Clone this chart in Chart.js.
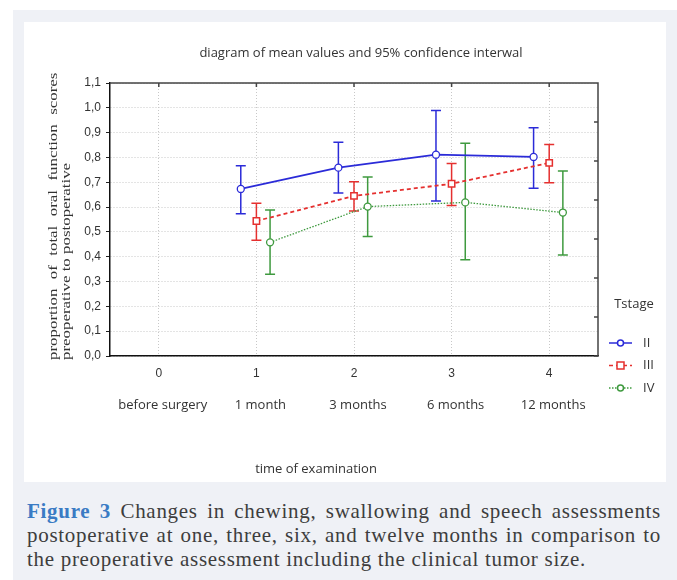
<!DOCTYPE html>
<html>
<head>
<meta charset="utf-8">
<script src="https://cdn.jsdelivr.net/npm/chart.js@4/dist/chart.umd.min.js"></script>
<style>
  html, body { margin: 0; padding: 0; background: #fff; }
  body { width: 677px; height: 580px; position: relative; overflow: hidden; }
  .outer { position: absolute; left: 13px; top: 10px; width: 664px; height: 570px; background: #eff1f6; }
  .panel { position: absolute; left: 24px; top: 22px; width: 642px; height: 460px; background: #fff; }
  .caption {
    position: absolute; left: 27px; top: 499px; width: 634px;
    font-family: "Liberation Serif", serif; font-size: 21px; line-height: 24px; letter-spacing: 0.7px;
    color: #3d3d3d; text-align: justify;
  }
  .caption b { color: #3a7bc4; }
</style>
</head>
<body>
<div class="outer"></div>
<div class="panel"><canvas id="chart" width="642" height="460"></canvas></div>
<div class="caption"><b>Figure 3</b> Changes in chewing, swallowing and speech assessments postoperative at one, three, six, and twelve months in comparison to the preoperative assessment including the clinical tumor size.</div>

<script>
// time points (x index) and their names
const timeIndex = [0, 1, 2, 3, 4];
const timeNames = ["before surgery", "1 month", "3 months", "6 months", "12 months"];
const measured = [1, 2, 3, 4];

// y ticks 0,0 .. 1,1
const yMin = 0.0;
const yMax = 1.1;
const yStep = 0.1;

// T stage II
const meanII = [0.673, 0.759, 0.811, 0.802];
const lowII = [0.573, 0.657, 0.625, 0.676];
const highII = [0.767, 0.861, 0.989, 0.920];
// T stage III
const meanIII = [0.544, 0.645, 0.694, 0.778];
const lowIII = [0.466, 0.584, 0.606, 0.698];
const highIII = [0.615, 0.702, 0.776, 0.852];
// T stage IV
const meanIV = [0.458, 0.602, 0.619, 0.578];
const lowIV = [0.329, 0.481, 0.388, 0.407];
const highIV = [0.588, 0.721, 0.857, 0.745];

const stageLabels = ["II", "III", "IV"];

const blue = "#2b2bd8";
const red = "#e5302f";
const green = "#3f9a3f";
const textColor = "#333";

// series are dodged a little around each time point
function points(means, low, high, dodge) {
  return measured.map((t, i) => ({ x: t + dodge, y: means[i], lo: low[i], hi: high[i] }));
}

const fmt = (v) => v.toFixed(1).replace(".", ",");

// error bars with caps, drawn under the lines
const errorBars = {
  id: "errorBars",
  beforeDatasetsDraw(chart) {
    const ctx = chart.ctx;
    const xs = chart.scales.x, ys = chart.scales.y;
    chart.data.datasets.forEach((ds) => {
      ctx.save();
      ctx.strokeStyle = ds.borderColor;
      ctx.lineWidth = 1.5;
      ds.data.forEach((p) => {
        const px = xs.getPixelForValue(p.x);
        const top = ys.getPixelForValue(p.hi);
        const bot = ys.getPixelForValue(p.lo);
        ctx.beginPath();
        ctx.moveTo(px, top); ctx.lineTo(px, bot);
        ctx.moveTo(px - 5, top); ctx.lineTo(px + 5, top);
        ctx.moveTo(px - 5, bot); ctx.lineTo(px + 5, bot);
        ctx.stroke();
      });
      ctx.restore();
    });
  },
};

// frame, inward ticks, texts and legend
const decorations = {
  id: "decorations",
  afterDraw(chart) {
    const ctx = chart.ctx;
    const a = chart.chartArea;
    const xs = chart.scales.x, y2 = chart.scales.y2;
    ctx.save();
    ctx.strokeStyle = "#444";
    ctx.lineWidth = 1.5;
    ctx.beginPath();
    ctx.moveTo(a.left, a.top); ctx.lineTo(a.right, a.top); ctx.lineTo(a.right, a.bottom);
    xs.ticks.forEach((t) => {
      const px = xs.getPixelForValue(t.value);
      ctx.moveTo(px, a.top); ctx.lineTo(px, a.top + 4);
    });
    y2.ticks.forEach((t) => {
      const py = y2.getPixelForValue(t.value);
      ctx.moveTo(a.right, py); ctx.lineTo(a.right - 4, py);
    });
    ctx.stroke();

    // title
    ctx.fillStyle = textColor;
    ctx.textAlign = "center";
    ctx.textBaseline = "middle";
    ctx.font = "13px 'Open Sans'";
    ctx.fillText("diagram of mean values and 95% confidence interwal", 337, 31);

    // x title
    ctx.fillText("time of examination", 292, 447);

    // y title, two rotated lines (stretched along the text like the original)
    ctx.save();
    ctx.translate(30, 338);
    ctx.rotate(-Math.PI / 2);
    ctx.scale(1.3, 1);
    ctx.textAlign = "left";
    ctx.font = "13px 'Liberation Serif'";
    ctx.wordSpacing = "4px";
    ctx.fillText("proportion of total oral function scores", 0, 0);
    ctx.wordSpacing = "0px";
    ctx.fillText("preoperative to postoperative", 0, 13);
    ctx.restore();

    // legend
    ctx.font = "13px 'Open Sans'";
    ctx.textAlign = "center";
    ctx.fillText("Tstage", 610, 282);
    chart.data.datasets.forEach((ds, i) => {
      const ly = 321 + i * 22.5;
      ctx.save();
      ctx.strokeStyle = ds.borderColor;
      ctx.lineWidth = 1.5;
      ctx.setLineDash(ds.borderDash || []);
      ctx.beginPath();
      ctx.moveTo(585, ly); ctx.lineTo(608, ly);
      ctx.stroke();
      ctx.setLineDash([]);
      ctx.fillStyle = "#fff";
      ctx.beginPath();
      if (ds.pointStyle === "rect") {
        ctx.rect(593, ly - 3.5, 7, 7);
      } else {
        ctx.arc(596.5, ly, 3, 0, Math.PI * 2);
      }
      ctx.fill();
      ctx.stroke();
      ctx.restore();
      ctx.fillStyle = textColor;
      ctx.textAlign = "left";
      ctx.fillText(ds.label, 619, ly);
    });
    ctx.restore();
  },
};

new Chart(document.getElementById("chart"), {
  type: "line",
  data: {
    datasets: [
      {
        label: stageLabels[0],
        data: points(meanII, lowII, highII, -0.16),
        borderColor: blue,
        borderWidth: 1.8,
        pointStyle: "circle",
        pointRadius: 3.5,
        pointBackgroundColor: "#fff",
        pointBorderWidth: 1.3,
      },
      {
        label: stageLabels[1],
        data: points(meanIII, lowIII, highIII, 0),
        borderColor: red,
        borderWidth: 1.8,
        borderDash: [4, 3],
        pointStyle: "rect",
        pointRadius: 4.5,
        pointBackgroundColor: "#fff",
        pointBorderWidth: 1.5,
      },
      {
        label: stageLabels[2],
        data: points(meanIV, lowIV, highIV, 0.14),
        borderColor: green,
        borderWidth: 1.3,
        borderDash: [1.5, 1.5],
        pointStyle: "circle",
        pointRadius: 3.5,
        pointBackgroundColor: "#fff",
        pointBorderWidth: 1.3,
      },
    ],
  },
  options: {
    responsive: false,
    animation: false,
    layout: { padding: { left: 56, right: 68, top: 61, bottom: 60 } },
    plugins: { legend: { display: false }, tooltip: { enabled: false } },
    scales: {
      x: {
        type: "linear",
        position: "bottom",
        min: -0.5,
        max: 4.5,
        afterBuildTicks: (s) => { s.ticks = timeIndex.map((v) => ({ value: v })); },
        afterFit: (s) => { s.height = 26; },
        ticks: { color: textColor, padding: 10, font: { family: "'Liberation Sans'", size: 12 } },
        grid: { color: "#c8c8c8", drawTicks: false },
        border: { color: "#111", width: 1.5, dash: [1, 2] },
      },
      x2: {
        type: "linear",
        position: "bottom",
        min: -0.5,
        max: 4.5,
        afterBuildTicks: (s) => { s.ticks = timeIndex.map((v) => ({ value: v })); },
        afterFit: (s) => { s.height = 40; },
        ticks: {
          color: textColor,
          padding: 15,
          labelOffset: 4,
          font: { family: "'Open Sans'", size: 13 },
          callback: (v) => timeNames[v],
        },
        grid: { display: false, drawTicks: false },
        border: { display: false },
      },
      y: {
        min: yMin,
        max: yMax,
        afterFit: (s) => { s.width = 30; },
        ticks: {
          stepSize: yStep,
          color: textColor,
          padding: 5,
          font: { family: "'Liberation Sans'", size: 12 },
          callback: (v) => fmt(v),
        },
        grid: { color: "#c8c8c8", tickColor: "#222", tickLength: 4 },
        border: { color: "#111", width: 1.5, dash: [1, 2] },
      },
      y2: {
        position: "right",
        min: 0,
        max: 7,
        afterFit: (s) => { s.width = 0; },
        ticks: { display: false, stepSize: 1 },
        grid: { display: false, drawTicks: false },
        border: { display: false },
      },
    },
  },
  plugins: [errorBars, decorations],
});
</script>
</body>
</html>
